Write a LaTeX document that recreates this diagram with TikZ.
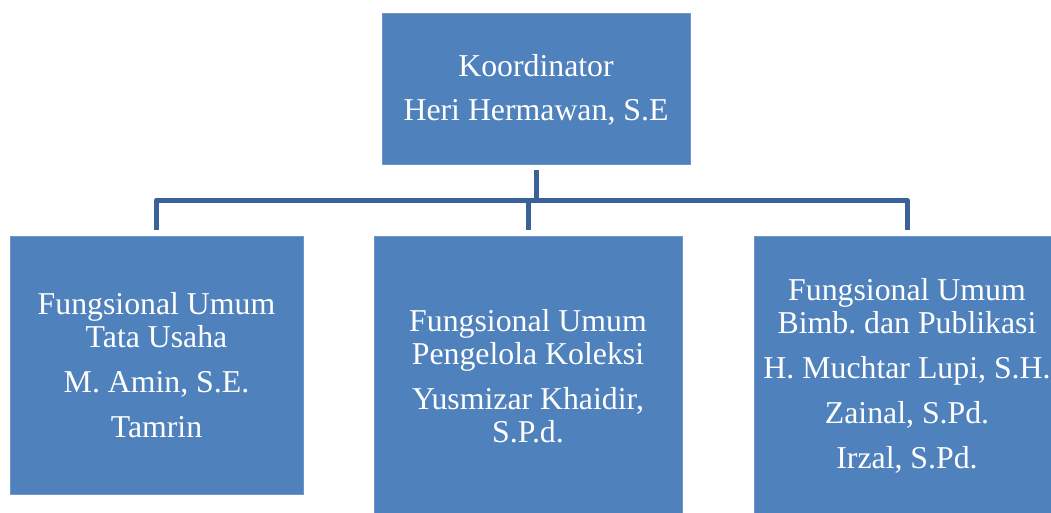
\documentclass[tikz,border=0pt]{standalone}
\usepackage{fontspec}
\setmainfont{Liberation Serif}
\usetikzlibrary{positioning}

\definecolor{boxblue}{RGB}{79,129,189}
\definecolor{boxedge}{RGB}{112,150,200}
\definecolor{linkblue}{RGB}{58,98,150}

\begin{document}
\begin{tikzpicture}[x=1pt,y=-1pt,
	unit/.style={minimum width=308pt,outer sep=0pt,inner sep=0pt,draw=boxedge,line width=1pt,fill=boxblue,text=white,align=center,font=\fontsize{31.8}{33}\selectfont},
	link/.style={draw=linkblue,line width=5pt,line join=round}]
	\useasboundingbox (0,0) rectangle (1051,513);

	\node [unit,minimum height=151pt] at (536,89.5) (koord) {Koordinator\\[11pt]Heri Hermawan, S.E};

	\node [unit,minimum width=293pt,minimum height=258pt] at (156.5,365) (tu) {Fungsional Umum\\Tata Usaha\\[12pt]M. Amin, S.E.\\[12pt]Tamrin};
	\node [unit,minimum height=280pt] at (528,376) (koleksi) {Fungsional Umum\\Pengelola Koleksi\\[12pt]Yusmizar Khaidir,\\S.P.d.};
	\node [unit,minimum width=306pt,minimum height=280pt] at (907,376) (bimb) {Fungsional Umum\\Bimb.\ dan Publikasi\\[12pt]H. Muchtar Lupi, S.H.\\[12pt]Zainal, S.Pd.\\[12pt]Irzal, S.Pd.};

	\coordinate (bus) at (536,200);
	\draw[link,shorten <=5pt] (koord.south) -- (bus);
	\draw[link] ([yshift=6pt]tu.north) |- (bus -| bimb.north) -- ([yshift=6pt]bimb.north);
	\draw[link,shorten >=6pt] (bus -| koleksi.north) -- (koleksi.north);
\end{tikzpicture}
\end{document}
